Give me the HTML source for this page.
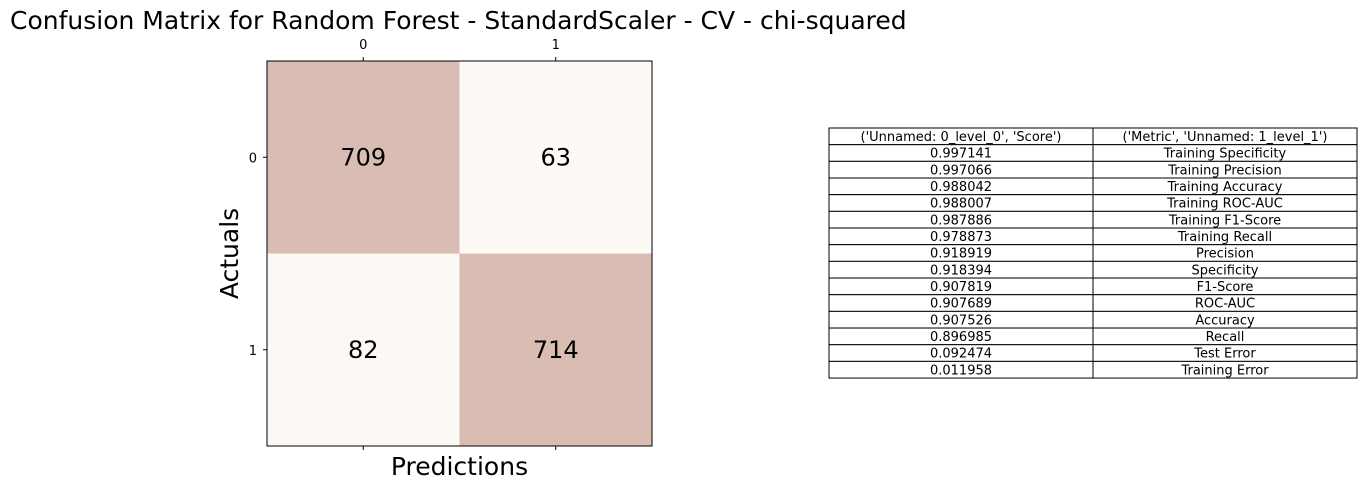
<!DOCTYPE html>
<html><head><meta charset="utf-8"><style>
body{margin:0;background:#fff;}
svg text{font-family:"DejaVu Sans","Liberation Sans",sans-serif;}
</style></head><body>
<svg width="1367" height="490" xmlns="http://www.w3.org/2000/svg">
<rect width="1367" height="490" fill="#fff"/>
<text x="10" y="29" font-size="25" fill="#000">Confusion Matrix for Random Forest - StandardScaler - CV - chi-squared</text>
<g id="matrix"></g>
<g id="table"></g>
</svg>
<script>
const classLabels=["0","1"];
const matrixValues=[[709,63],[82,714]];
const tableHeader=["('Unnamed: 0_level_0', 'Score')","('Metric', 'Unnamed: 1_level_1')"];
const scores=["0.997141","0.997066","0.988042","0.988007","0.987886","0.978873","0.918919","0.918394","0.907819","0.907689","0.907526","0.896985","0.092474","0.011958"];
const metrics=["Training Specificity","Training Precision","Training Accuracy","Training ROC-AUC","Training F1-Score","Training Recall","Precision","Specificity","F1-Score","ROC-AUC","Accuracy","Recall","Test Error","Training Error"];

const NS="http://www.w3.org/2000/svg";
function mk(t,a,p,txt){const e=document.createElementNS(NS,t);for(const k in a)e.setAttribute(k,a[k]);if(txt!==undefined)e.textContent=txt;p.appendChild(e);return e;}
const m=document.getElementById('matrix');
const L=267,T=61,S=385,n=classLabels.length,cs=S/n;
const xs=i=>L+cs*(i+0.5), ys=i=>T+cs*(i+0.5);
const flat=matrixValues.flat(),mn=Math.min(...flat),mx=Math.max(...flat);
function col(v){const t=(v-mn)/(mx-mn||1);const a=[253,250,246],b=[217,189,179];return `rgb(${a.map((c,i)=>Math.round(c+(b[i]-c)*t)).join(',')})`;}
for(let r=0;r<n;r++)for(let c=0;c<n;c++){
 const e=mk('rect',{x:L+cs*c,y:T+cs*r,width:cs,height:cs,fill:col(matrixValues[r][c])},m);
 
 
 const t=mk('text',{x:xs(c),y:ys(r)+8,'font-size':24,'text-anchor':'middle'},m,String(matrixValues[r][c]));
 
 
}
mk('rect',{x:L,y:T,width:S,height:S,fill:'none',stroke:'#000','stroke-width':1},m);
for(let i=0;i<n;i++){
 mk('line',{x1:xs(i),x2:xs(i),y1:T,y2:T-4,stroke:'#000'},m);
 mk('line',{x1:xs(i),x2:xs(i),y1:T+S,y2:T+S+4,stroke:'#000'},m);
 mk('line',{x1:L,x2:L-4,y1:ys(i),y2:ys(i),stroke:'#000'},m);
 const a=mk('text',{x:xs(i),y:T-12,'font-size':13,'text-anchor':'middle'},m,classLabels[i]);
 
 
 const b=mk('text',{x:L-10,y:ys(i)+5,'font-size':13,'text-anchor':'end'},m,classLabels[i]);
 
 
}
const xt=mk('text',{x:L+S/2,y:475,'font-size':25,'text-anchor':'middle'},m,'Predictions');


const yt=mk('text',{x:0,y:0,'font-size':25,'text-anchor':'middle',transform:`translate(238,${T+S/2}) rotate(-90)`},m,'Actuals');



const tb=document.getElementById('table');
const TL=829,TM=1093,TR=1357,TT=128,RH=16.67;
const rows=[tableHeader].concat(scores.map((s,i)=>[s,metrics[i]]));
rows.forEach((r,i)=>{
 const y=TT+RH*i;
 mk('rect',{x:TL,y:y,width:TM-TL,height:RH,fill:'#fff',stroke:'#000','stroke-width':1},tb);
 mk('rect',{x:TM,y:y,width:TR-TM,height:RH,fill:'#fff',stroke:'#000','stroke-width':1},tb);
 const a=mk('text',{x:(TL+TM)/2,y:y+13,'font-size':13,'text-anchor':'middle'},tb,r[0]);
 
 
 const b=mk('text',{x:(TM+TR)/2,y:y+13,'font-size':13,'text-anchor':'middle'},tb,r[1]);
 
 
});
</script>
</body></html>
